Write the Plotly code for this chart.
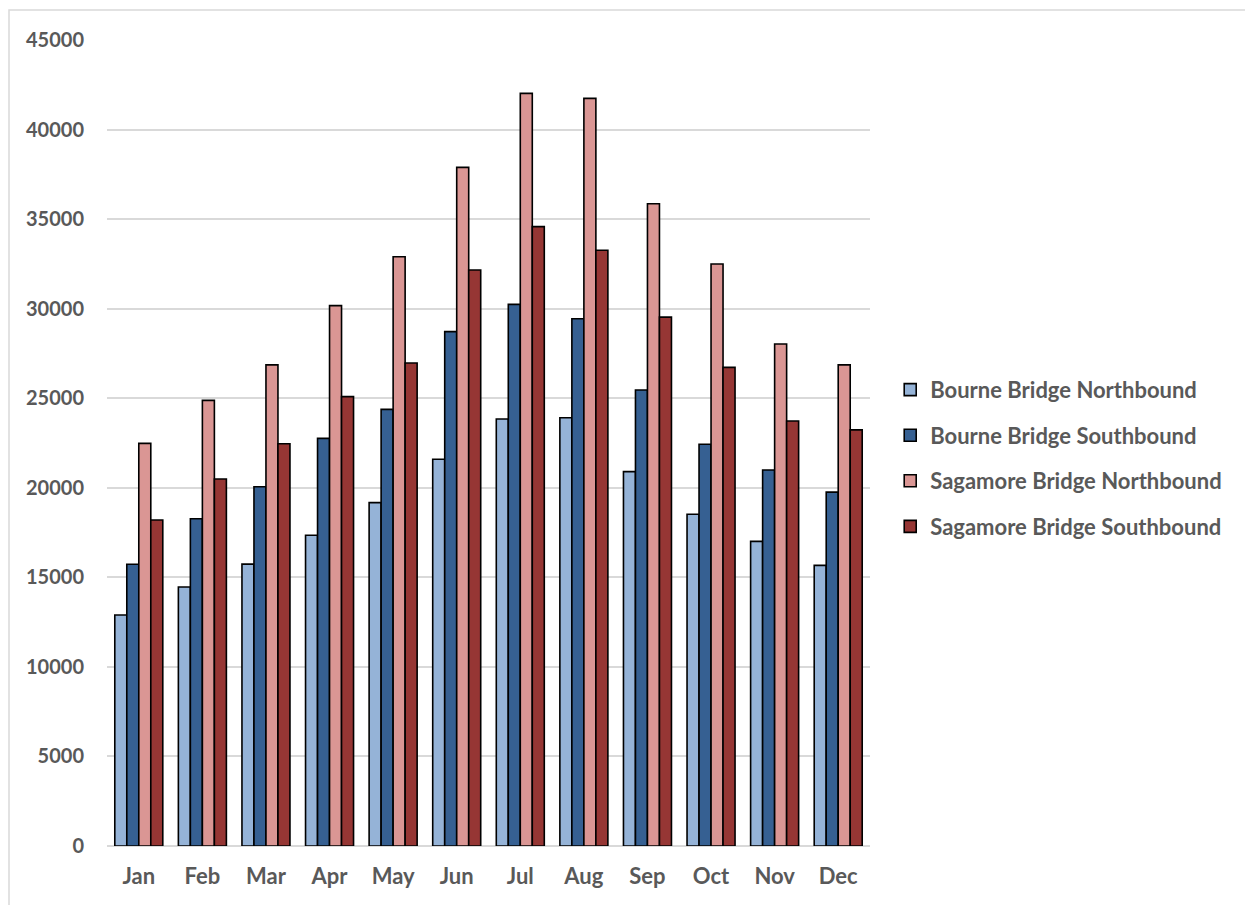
import plotly.graph_objects as go

months = ["Jan", "Feb", "Mar", "Apr", "May", "Jun", "Jul", "Aug", "Sep", "Oct", "Nov", "Dec"]
bourne_nb = [12900, 14460, 15740, 17350, 19170, 21590, 23840, 23910, 20900, 18520, 17010, 15670]
bourne_sb = [15730, 18270, 20060, 22760, 24380, 28720, 30240, 29440, 25460, 22430, 20990, 19760]
sagamore_nb = [22480, 24880, 26860, 30170, 32900, 37890, 42020, 41740, 35860, 32490, 28030, 26860]
sagamore_sb = [18200, 20490, 22460, 25090, 26970, 32160, 34580, 33260, 29530, 26720, 23730, 23230]

series_names = ["Bourne Bridge Northbound", "Bourne Bridge Southbound",
                "Sagamore Bridge Northbound", "Sagamore Bridge Southbound"]
series_values = [bourne_nb, bourne_sb, sagamore_nb, sagamore_sb]
series_colors = ["#95B3D7", "#366092", "#DA9694", "#963634"]

text_color = "#595959"
font_family = "Lato, 'Open Sans', sans-serif"

fig = go.Figure()
for i, (name, vals, col) in enumerate(zip(series_names, series_values, series_colors)):
    fig.add_trace(go.Bar(
        x=months, y=vals, name=name,
        marker=dict(color=col, line=dict(color="#000000", width=1.6)),
        legendgroup=f"g{i}",
    ))

# page has an 8px body margin, so the figure starts at (8, 8)
fig.update_layout(
    width=1245, height=897,
    margin=dict(l=99, r=383, t=32, b=59),
    paper_bgcolor="white", plot_bgcolor="white",
    barmode="group", bargap=0.245, bargroupgap=0,
    font=dict(family=font_family, size=20, color=text_color),
    showlegend=True,
    legend=dict(
        x=1.0265, xanchor="left", y=0.481, yanchor="middle",
        font=dict(family=font_family, size=22, color=text_color, weight="bold"),
        tracegroupgap=14, traceorder="grouped",
        bgcolor="rgba(0,0,0,0)",
    ),
    xaxis=dict(
        showgrid=False, showline=False, zeroline=False,
        tickfont=dict(family=font_family, size=22, color=text_color, weight="bold"),
        ticks="", ticklabelstandoff=15,
    ),
    yaxis=dict(
        range=[0, 45000], dtick=5000, tick0=0,
        showgrid=True, gridcolor="#D9D9D9", gridwidth=1.5,
        zeroline=True, zerolinecolor="#D9D9D9", zerolinewidth=1.5,
        showline=False, ticks="",
        tickfont=dict(family=font_family, size=20, color=text_color, weight="bold"),
        ticklabelstandoff=22, tickformat="d",
    ),
    shapes=[dict(
        type="rect", xref="paper", yref="paper",
        x0=(9 - 107) / 763, x1=(1270 - 107) / 763,
        y0=(846 - 920) / 806, y1=(846 - 10) / 806,
        line=dict(color="#D9D9D9", width=1.5), fillcolor="rgba(0,0,0,0)",
        layer="below",
    )],
)

fig.write_html("out.html")
